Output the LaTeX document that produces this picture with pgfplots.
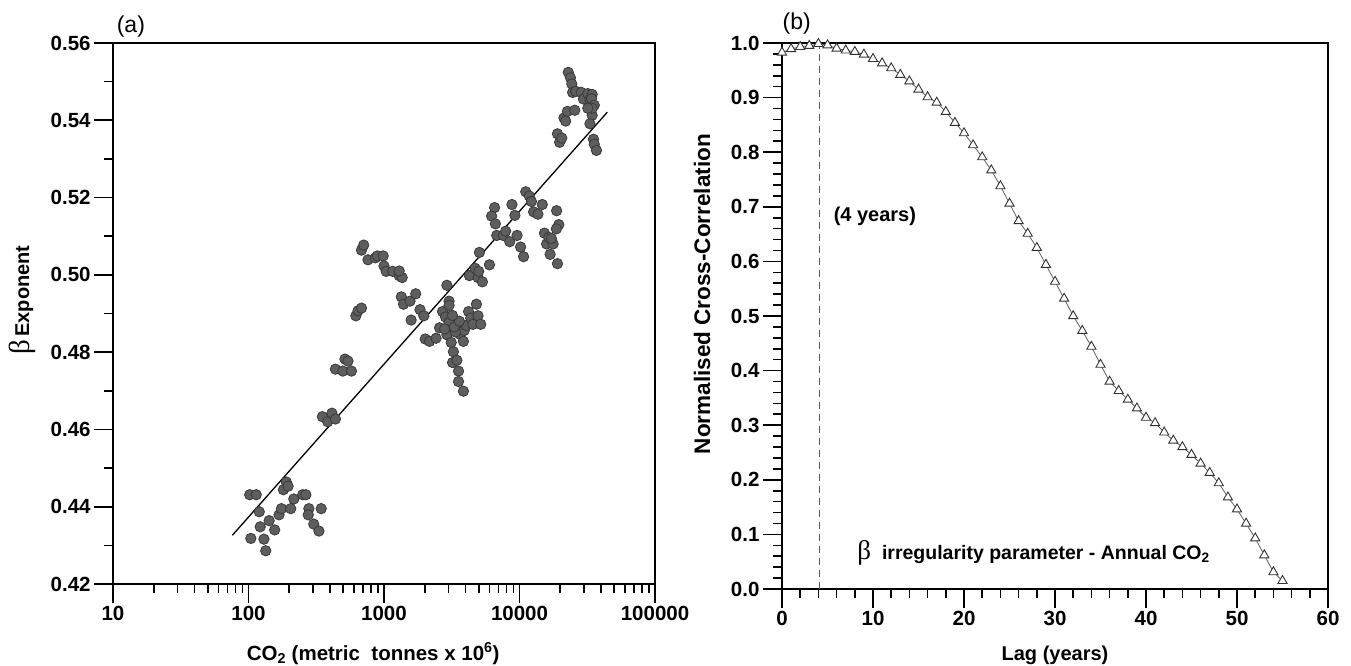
\documentclass[border=0pt]{standalone}
\usepackage{fontspec}
\setmainfont{Liberation Sans}
\newfontfamily\serifgk{Liberation Serif}
\usepackage{pgfplots}
\pgfplotsset{compat=1.18}

\definecolor{dotfill}{HTML}{5E5E5E}
\definecolor{dotedge}{HTML}{3A3A3A}
\definecolor{triedge}{HTML}{333333}

\pgfplotsset{
 myaxis/.style={
  scale only axis, clip=false,
  axis line style={line width=2pt},
  every tick/.style={black, line width=1.6pt},
  tick align=outside,
  major tick length=19pt, minor tick length=9pt,
  xtick pos=bottom, ytick pos=left,
  /pgf/number format/assume math mode=true,
  ticklabel style={font=\fontsize{20.5}{23}\selectfont\bfseries},
  label style={font=\fontsize{20}{23}\selectfont\bfseries},
 }
}

\pgfplotstableread{
x y
102 0.4431
114 0.4431
120 0.4387
104 0.4318
122 0.4348
130 0.4316
134 0.4286
142 0.4364
156 0.4340
168 0.4379
175 0.4395
190 0.4464
181 0.4444
196 0.4453
205 0.4395
216 0.4420
251 0.4431
265 0.4431
279 0.4395
276 0.4379
303 0.4355
331 0.4337
344 0.4395
351 0.4633
384 0.4620
413 0.4642
438 0.4627
438 0.4756
497 0.4751
515 0.4782
542 0.4777
575 0.4751
620 0.4894
643 0.4907
682 0.4914
682 0.5064
708 0.5077
762 0.5039
863 0.5044
894 0.5049
986 0.5049
1000 0.5023
1038 0.5009
1159 0.5009
1294 0.4998
1362 0.4993
1294 0.5010
1343 0.4943
1394 0.4924
1556 0.4932
1714 0.4951
1585 0.4883
1845 0.4910
1968 0.4894
2014 0.4834
2168 0.4828
2421 0.4836
2570 0.4863
2911 0.4973
3020 0.4932
2704 0.4905
2844 0.4891
3020 0.4921
3020 0.4877
3133 0.4858
2911 0.4845
3133 0.4825
3251 0.4801
3207 0.4773
3451 0.4779
3548 0.4751
3548 0.4724
3855 0.4699
3499 0.4869
3681 0.4845
3909 0.4856
3855 0.4828
4055 0.4869
4207 0.4905
4365 0.4888
4529 0.4872
4808 0.4924
4943 0.4894
5176 0.4872
3370 0.4852
3300 0.4865
3600 0.4880
3200 0.4895
2800 0.4860
4266 0.4998
4699 0.5017
4943 0.4993
5321 0.4982
5058 0.5058
5000 0.5009
5998 0.5026
6546 0.5174
6223 0.5152
6637 0.5132
6792 0.5102
7586 0.5102
7900 0.5113
8472 0.5086
8790 0.5182
9247 0.5154
9594 0.5102
10186 0.5072
10715 0.5047
11117 0.5215
11803 0.5204
12246 0.5190
12706 0.5163
13677 0.5157
14723 0.5182
15276 0.5108
15849 0.5080
16444 0.5097
16826 0.5053
17701 0.5080
17200 0.5094
18793 0.5166
19055 0.5029
19498 0.5130
18700 0.5119
19055 0.5365
19770 0.5343
20511 0.5354
21281 0.5406
21900 0.5398
22594 0.5423
22909 0.5524
23768 0.5510
24322 0.5494
24660 0.5472
25586 0.5426
26000 0.5475
28576 0.5472
29648 0.5455
31915 0.5469
33113 0.5453
34356 0.5467
34000 0.5456
35645 0.5439
34356 0.5413
33113 0.5391
34356 0.5431
35156 0.5351
35645 0.5338
36983 0.5322
31915 0.5431
}\scatterdata

\pgfplotstableread{
lag r
0 0.9826
1 0.989
2 0.993
3 0.995
4 0.9985
5 0.996
6 0.990
7 0.9865
8 0.984
9 0.979
10 0.971
11 0.963
12 0.954
13 0.942
14 0.930
15 0.915
16 0.901
17 0.891
18 0.874
19 0.854
20 0.835
21 0.813
22 0.791
23 0.767
24 0.738
25 0.706
26 0.674
27 0.651
28 0.625
29 0.594
30 0.563
31 0.532
32 0.500
33 0.473
34 0.444
35 0.411
36 0.380
37 0.363
38 0.347
39 0.331
40 0.314
41 0.304
42 0.287
43 0.272
44 0.260
45 0.246
46 0.230
47 0.213
48 0.194
49 0.168
50 0.146
51 0.120
52 0.093
53 0.062
54 0.031
55 0.015
}\ccdata

\begin{document}
\begin{tikzpicture}
\path[use as bounding box] (0,0) rectangle (1351pt,665pt);

% ---------- (a) ----------
\begin{axis}[myaxis,
  at={(113pt,81pt)}, anchor=south west,
  width=542pt, height=541pt,
  xmode=log, xmin=10, xmax=100000,
  ymin=0.42, ymax=0.56,
  xtick={10,100,1000,10000,100000},
  xticklabels={10,100,1000,10000,100000},
  minor xtick={20,30,40,50,60,70,80,90,200,300,400,500,600,700,800,900,2000,3000,4000,5000,6000,7000,8000,9000,20000,30000,40000,50000,60000,70000,80000,90000},
  ytick={0.42,0.44,0.46,0.48,0.50,0.52,0.54,0.56},
  minor y tick num=1,
  yticklabel style={/pgf/number format/.cd, fixed, fixed zerofill, precision=2},
  xlabel={CO\textsubscript{2} (metric\ \ tonnes x 10\textsuperscript{6})},
  xlabel style={at={(axis description cs:0.48,-0.129)}, anchor=center, font=\fontsize{20.5}{23}\selectfont\bfseries},
  ylabel={{\serifgk\mdseries\fontsize{29}{29}\selectfont β}\,Exponent},
  ylabel style={at={(axis description cs:-0.168,0.525)}, anchor=center},
]
\addplot[only marks, mark=*, mark size=5.2pt,
  mark options={fill=dotfill, draw=dotedge, line width=0.8pt}]
  table[x=x, y=y] {\scatterdata};
\addplot[black, line width=1.3pt] coordinates {(76,0.4326) (44460,0.5421)};
\node[font=\fontsize{23}{26}\selectfont] at (rel axis cs:0.033,1.031) {(a)};
\end{axis}

% ---------- (b) ----------
\begin{axis}[myaxis,
  at={(782pt,76pt)}, anchor=south west,
  width=546pt, height=546pt,
  xmin=0, xmax=60, ymin=0, ymax=1,
  xtick={0,10,20,30,40,50,60},
  minor x tick num=4,
  ytick={0,0.1,0.2,0.3,0.4,0.5,0.6,0.7,0.8,0.9,1.0},
  minor y tick num=4,
  yticklabel style={/pgf/number format/.cd, fixed, fixed zerofill, precision=1},
  xlabel={Lag (years)},
  xlabel style={at={(axis description cs:0.5,-0.121)}, anchor=center},
  ylabel={Normalised Cross-Correlation},
  ylabel style={at={(axis description cs:-0.1465,0.54)}, anchor=center, font=\fontsize{22.5}{25}\selectfont\bfseries},
]
\addplot[gray!70!black, line width=1pt, dash pattern=on 7pt off 5pt]
  coordinates {(4.15,0) (4.15,1)};
\addplot[gray!75!black, line width=0.8pt, mark=triangle*, mark size=5.3pt,
  mark options={fill=white, draw=triedge, line width=0.9pt, solid}]
  table[x=lag, y=r] {\ccdata};
\node[anchor=west, font=\fontsize{20}{23}\selectfont\bfseries] at (axis cs:5.3,0.683) {(4 years)};
\node[anchor=west, font=\fontsize{19.5}{22}\selectfont\bfseries] at (axis cs:7.9,0.066)
  {{\serifgk\mdseries\fontsize{27}{27}\selectfont β}\ \ irregularity parameter - Annual CO\textsubscript{2}};
\node[font=\fontsize{23}{26}\selectfont] at (rel axis cs:0.027,1.035) {(b)};
\end{axis}
\end{tikzpicture}
\end{document}
